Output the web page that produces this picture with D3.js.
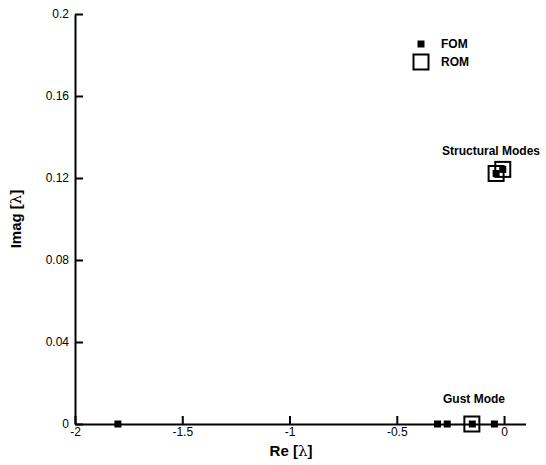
<!DOCTYPE html>
<html>
<head>
<meta charset="utf-8">
<script src="https://cdn.jsdelivr.net/npm/d3@7"></script>
<style>
  html, body { margin: 0; padding: 0; background: #fff; }
  svg { display: block; font-family: "Liberation Sans", Arial, sans-serif; }
</style>
</head>
<body>
<svg id="chart" width="546" height="465"></svg>
<script>
// Eigenvalue locations (real part, imaginary part)
const fomRe = [-1.8, -0.31, -0.265, -0.148, -0.045, -0.037, -0.006];
const fomIm = [0, 0, 0, 0, 0, 0.1222, 0.1242];
const romRe = [-0.15, -0.037, -0.006];
const romIm = [0, 0.1222, 0.1242];

const xTicks = [-2, -1.5, -1, -0.5, 0];
const xTickLabels = ["-2", "-1.5", "-1", "-0.5", "0"];
const yTicks = [0, 0.04, 0.08, 0.12, 0.16, 0.2];
const yTickLabels = ["0", "0.04", "0.08", "0.12", "0.16", "0.2"];

const legendNames = ["FOM", "ROM"];

const svg = d3.select("#chart");

const x = d3.scaleLinear().domain([-2, 0.1]).range([75, 525.5]);
const y = d3.scaleLinear().domain([0, 0.2]).range([424, 14]);

// Axes: ticks drawn inward, no outer tick
const xAxis = d3.axisBottom(x).tickValues(xTicks)
  .tickFormat((d, i) => xTickLabels[i]).tickSizeInner(-8).tickSizeOuter(0).tickPadding(3);
const yAxis = d3.axisLeft(y).tickValues(yTicks)
  .tickFormat((d, i) => yTickLabels[i]).tickSizeInner(-8).tickSizeOuter(0).tickPadding(6);

const gx = svg.append("g").attr("transform", `translate(0,${y(0)})`).call(xAxis);
const gy = svg.append("g").attr("transform", `translate(${x(-2)},0)`).call(yAxis);

[gx, gy].forEach(g => {
  g.select(".domain").attr("stroke", "#000").attr("stroke-width", 2);
  g.selectAll(".tick line").attr("stroke", "#000").attr("stroke-width", 2);
  g.selectAll(".tick text").attr("fill", "#000").attr("font-size", 12)
    .attr("font-family", "'Liberation Sans', Arial, sans-serif");
});

// Axis titles
const reTitle = svg.append("text").attr("x", 291).attr("y", 456)
  .attr("text-anchor", "middle").attr("font-size", 15).attr("font-weight", "bold");
reTitle.append("tspan").text("Re [");
reTitle.append("tspan").attr("font-weight", "normal").attr("font-family", "'DejaVu Serif', serif").text("λ");
reTitle.append("tspan").text("]");

const imTitle = svg.append("text").attr("transform", "translate(21,219) rotate(-90)")
  .attr("text-anchor", "middle").attr("font-size", 15).attr("font-weight", "bold");
imTitle.append("tspan").text("Imag [");
imTitle.append("tspan").attr("font-weight", "normal").attr("font-family", "'DejaVu Serif', serif").text("λ");
imTitle.append("tspan").text("]");

// ROM markers: open squares
const romSize = 15;
svg.append("g").selectAll("rect").data(romRe).join("rect")
  .attr("x", (d, i) => x(d) - romSize / 2)
  .attr("y", (d, i) => y(romIm[i]) - romSize / 2)
  .attr("width", romSize).attr("height", romSize)
  .attr("fill", "none").attr("stroke", "#000").attr("stroke-width", 2);

// FOM markers: small filled squares
const fomSize = 7;
svg.append("g").selectAll("rect").data(fomRe).join("rect")
  .attr("x", (d, i) => x(d) - fomSize / 2)
  .attr("y", (d, i) => y(fomIm[i]) - fomSize / 2)
  .attr("width", fomSize).attr("height", fomSize)
  .attr("fill", "#000");

// Annotations
svg.append("text").attr("x", 442).attr("y", 155)
  .attr("font-size", 12).attr("font-weight", "bold").text("Structural Modes");
svg.append("text").attr("x", 443).attr("y", 403)
  .attr("font-size", 12).attr("font-weight", "bold").text("Gust Mode");

// Legend
const legend = svg.append("g");
legend.append("rect").attr("x", 421 - fomSize / 2).attr("y", 44 - fomSize / 2)
  .attr("width", fomSize).attr("height", fomSize).attr("fill", "#000");
legend.append("rect").attr("x", 421 - romSize / 2).attr("y", 62 - romSize / 2)
  .attr("width", romSize).attr("height", romSize)
  .attr("fill", "none").attr("stroke", "#000").attr("stroke-width", 2);
legend.selectAll("text").data(legendNames).join("text")
  .attr("x", 441).attr("y", (d, i) => 44 + i * 18 + 4)
  .attr("font-size", 12).attr("font-weight", "bold").text(d => d);
</script>
</body>
</html>
